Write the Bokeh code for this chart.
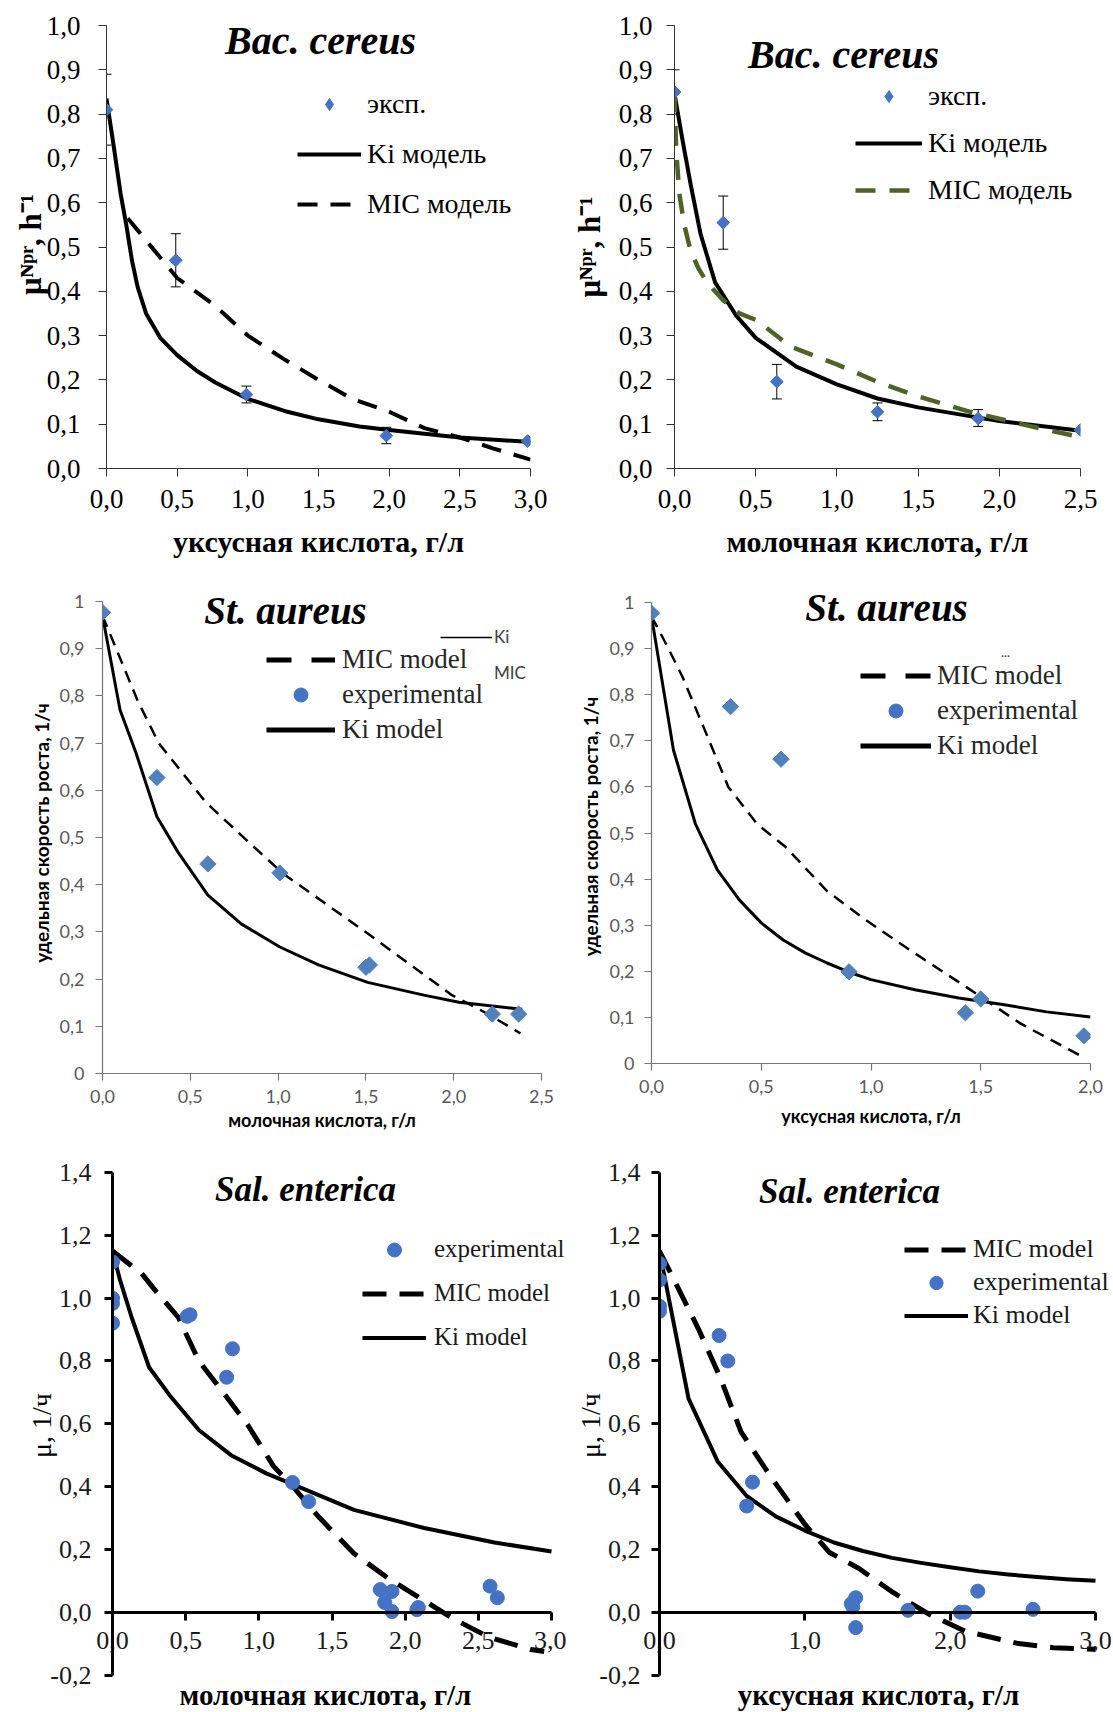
import numpy as np
from bokeh.plotting import figure
from bokeh.models import (Range1d, FixedTicker, CustomJSTickFormatter, Label, LinearAxis,
                          ColumnDataSource, Whisker, TeeHead, Legend, LegendItem)
from bokeh.layouts import column, row
from bokeh.embed import file_html
from bokeh.resources import INLINE

# ---------------- data ----------------
# Panel 1: Bac. cereus, acetic acid
exp_x1 = [0.0, 0.49, 0.99, 1.98, 2.98]
exp_y1 = [0.81, 0.47, 0.167, 0.074, 0.062]
err_x1 = [0.0, 0.49, 0.99, 1.98]
err_lo1 = [0.73, 0.41, 0.148, 0.056]
err_hi1 = [0.89, 0.53, 0.186, 0.093]
ki_x1 = [0, 0.05, 0.1, 0.14, 0.18, 0.22, 0.28, 0.38, 0.5, 0.64, 0.77, 1.0, 1.28, 1.5, 1.79, 2.0, 2.5, 3.0]
ki_y1 = [0.835, 0.73, 0.62, 0.55, 0.47, 0.41, 0.35, 0.295, 0.256, 0.22, 0.194, 0.157, 0.128, 0.111, 0.095, 0.087, 0.07, 0.06]
mic_x1 = [0.15, 0.5, 0.77, 1.0, 1.25, 1.5, 1.74, 2.0, 2.25, 2.5, 2.74, 3.0]
mic_y1 = [0.565, 0.43, 0.367, 0.3, 0.248, 0.2, 0.157, 0.128, 0.091, 0.07, 0.045, 0.02]

# Panel 2: Bac. cereus, lactic acid
exp_x2 = [0.0, 0.3, 0.63, 1.25, 1.87, 2.5]
exp_y2 = [0.85, 0.555, 0.196, 0.128, 0.113, 0.087]
err_x2 = [0.0, 0.3, 0.63, 1.25, 1.87]
err_lo2 = [0.80, 0.495, 0.157, 0.108, 0.095]
err_hi2 = [0.90, 0.615, 0.235, 0.148, 0.133]
ki_x2 = [0, 0.05, 0.1, 0.16, 0.25, 0.38, 0.5, 0.75, 1.0, 1.25, 1.5, 2.0, 2.5]
ki_y2 = [0.846, 0.74, 0.64, 0.53, 0.42, 0.345, 0.295, 0.23, 0.19, 0.158, 0.138, 0.107, 0.085]
mic_x2 = [0, 0.01, 0.03, 0.06, 0.1, 0.15, 0.2, 0.3, 0.4, 0.51, 0.71, 1.0, 1.26, 1.48, 1.82, 2.15, 2.46]
mic_y2 = [0.85, 0.72, 0.62, 0.55, 0.49, 0.45, 0.42, 0.38, 0.35, 0.334, 0.276, 0.235, 0.194, 0.165, 0.128, 0.099, 0.074]

# Panel 3: St. aureus, lactic acid
exp_x3 = [0.0, 0.31, 0.6, 1.01, 1.5, 1.52, 2.22, 2.37]
exp_y3 = [0.977, 0.627, 0.444, 0.425, 0.225, 0.23, 0.126, 0.126]
ki_x3 = [0, 0.1, 0.19, 0.31, 0.43, 0.6, 0.79, 1.01, 1.23, 1.51, 1.83, 2.03, 2.39]
ki_y3 = [0.97, 0.77, 0.68, 0.544, 0.469, 0.378, 0.317, 0.268, 0.23, 0.193, 0.166, 0.151, 0.136]
mic_x3 = [0, 0.1, 0.2, 0.32, 0.59, 0.83, 1.03, 1.49, 1.99, 2.2, 2.38]
mic_y3 = [0.97, 0.88, 0.79, 0.70, 0.574, 0.491, 0.423, 0.302, 0.166, 0.125, 0.085]

# Panel 4: St. aureus, acetic acid
exp_x4 = [0.0, 0.36, 0.59, 0.9, 1.43, 1.5, 1.97]
exp_y4 = [0.977, 0.774, 0.66, 0.199, 0.11, 0.14, 0.06]
ki_x4 = [0, 0.1, 0.2, 0.3, 0.4, 0.5, 0.6, 0.7, 0.8, 0.9, 1.0, 1.2, 1.4, 1.6, 1.8, 2.0]
ki_y4 = [0.97, 0.68, 0.52, 0.42, 0.355, 0.305, 0.268, 0.24, 0.218, 0.198, 0.182, 0.16, 0.142, 0.128, 0.112, 0.101]
mic_x4 = [0, 0.06, 0.14, 0.25, 0.35, 0.48, 0.61, 0.8, 0.98, 1.19, 1.44, 1.68, 1.97]
mic_y4 = [0.97, 0.916, 0.84, 0.715, 0.6, 0.52, 0.47, 0.374, 0.31, 0.242, 0.164, 0.087, 0.013]

# Panel 5: Sal. enterica, lactic acid
exp_x5 = [0, 0, 0, 0, 0.51, 0.53, 0.78, 0.82, 1.23, 1.34, 1.83, 1.86, 1.91, 1.91, 2.08, 2.09, 2.58, 2.63]
exp_y5 = [1.115, 1.0, 0.983, 0.92, 0.942, 0.947, 0.748, 0.839, 0.413, 0.352, 0.072, 0.031, 0.066, 0.002, 0.008, 0.015, 0.083, 0.046]
ki_x5 = [0, 0.05, 0.13, 0.25, 0.4, 0.59, 0.81, 1.05, 1.29, 1.65, 2.13, 2.61, 3.0]
ki_y5 = [1.15, 1.06, 0.94, 0.78, 0.685, 0.58, 0.5, 0.442, 0.396, 0.326, 0.268, 0.222, 0.193]
mic_x5 = [0, 0.2, 0.3, 0.45, 0.59, 0.78, 0.93, 1.1, 1.24, 1.41, 1.65, 1.89, 2.13, 2.33, 2.57, 2.86, 2.95]
mic_y5 = [1.15, 1.078, 1.02, 0.939, 0.8, 0.685, 0.592, 0.465, 0.396, 0.303, 0.187, 0.106, 0.037, -0.021, -0.079, -0.119, -0.125]

# Panel 6: Sal. enterica, acetic acid
exp_x6 = [0, 0, 0, 0, 0.41, 0.47, 0.6, 0.64, 1.32, 1.33, 1.35, 1.35, 1.71, 2.07, 2.1, 2.19, 2.57]
exp_y6 = [1.11, 1.058, 0.974, 0.958, 0.881, 0.8, 0.338, 0.414, 0.027, 0.017, 0.046, -0.049, 0.006, 0.0, 0.0, 0.067, 0.009]
ki_x6 = [0, 0.2, 0.4, 0.6, 0.8, 1.0, 1.2, 1.4, 1.6, 1.8, 2.0, 2.2, 2.4, 2.6, 2.8, 3.0]
ki_y6 = [1.15, 0.68, 0.48, 0.37, 0.305, 0.26, 0.222, 0.195, 0.173, 0.157, 0.143, 0.13, 0.12, 0.112, 0.105, 0.1]
mic_x6 = [0, 0.12, 0.27, 0.42, 0.56, 0.76, 1.0, 1.17, 1.37, 1.61, 1.86, 2.1, 2.47, 2.71, 3.0]
mic_y6 = [1.15, 1.04, 0.9, 0.745, 0.575, 0.435, 0.28, 0.19, 0.14, 0.062, -0.008, -0.06, -0.1, -0.113, -0.118]

# ticks
x_ticks_30 = [0.0, 0.5, 1.0, 1.5, 2.0, 2.5, 3.0]
x_labels_30 = ["0,0", "0,5", "1,0", "1,5", "2,0", "2,5", "3,0"]
x_ticks_25 = [0.0, 0.5, 1.0, 1.5, 2.0, 2.5]
x_labels_25 = ["0,0", "0,5", "1,0", "1,5", "2,0", "2,5"]
x_ticks_20 = [0.0, 0.5, 1.0, 1.5, 2.0]
x_labels_20 = ["0,0", "0,5", "1,0", "1,5", "2,0"]
x_ticks_6 = [0.0, 1.0, 2.0, 3.0]
x_labels_6 = ["0,0", "1,0", "2,0", "3,0"]
y_ticks_10 = [0.0, 0.1, 0.2, 0.3, 0.4, 0.5, 0.6, 0.7, 0.8, 0.9, 1.0]
y_labels_10a = ["0,0", "0,1", "0,2", "0,3", "0,4", "0,5", "0,6", "0,7", "0,8", "0,9", "1,0"]
y_labels_10b = ["0", "0,1", "0,2", "0,3", "0,4", "0,5", "0,6", "0,7", "0,8", "0,9", "1"]
y_ticks_14 = [-0.2, 0.0, 0.2, 0.4, 0.6, 0.8, 1.0, 1.2, 1.4]
y_labels_14 = ["-0,2", "0,0", "0,2", "0,4", "0,6", "0,8", "1,0", "1,2", "1,4"]

# ---------------- styles / layout ----------------
BLUE = "#4472C4"
BLUE2 = "#4F81BD"
GREEN = "#4F6228"
SERIF = "Liberation Serif"
SANS = "Lato"

COL_X = [0, 566]
COL_W = [566, 547]
ROW_Y = [0, 568, 1138]
ROW_H = [568, 570, 574]
OFF = [-100, -99]   # location of legend-only sample renderers (outside every range)


def make_fig(c, r, ml, mr, mt, mb, xr, yr, xloc="below"):
    w, h = COL_W[c], ROW_H[r]
    p = figure(width=w, height=h, x_range=Range1d(*xr), y_range=Range1d(*yr),
               min_border_left=ml, min_border_right=mr, min_border_top=mt, min_border_bottom=mb,
               output_backend="svg", toolbar_location=None, tools="", x_axis_location=xloc,
               frame_align=False)
    p.xgrid.visible = False
    p.ygrid.visible = False
    p.outline_line_color = None
    p.background_fill_color = "white"
    p.border_fill_color = "white"
    g = dict(L=COL_X[c] + ml, R=COL_X[c] + w - mr, T=ROW_Y[r] + mt, B=ROW_Y[r] + h - mb, xr=xr, yr=yr)
    return p, g


def yr_for(top_px, bottom_px, y0_px, y1_px, v0, v1):
    # range so that value v0 sits at page y0_px and v1 at y1_px, frame spanning top_px..bottom_px
    per = (y0_px - y1_px) / (v1 - v0)
    return (v0 - (bottom_px - y0_px) / per, v1 + (y1_px - top_px) / per)


def xr_for(left_px, right_px, x0_px, x1_px, v0, v1):
    per = (x1_px - x0_px) / (v1 - v0)
    return (v0 - (x0_px - left_px) / per, v1 + (right_px - x1_px) / per)


def dx(g, px):
    return g["xr"][0] + (px - g["L"]) / (g["R"] - g["L"]) * (g["xr"][1] - g["xr"][0])


def dy(g, py):
    return g["yr"][0] + (g["B"] - py) / (g["B"] - g["T"]) * (g["yr"][1] - g["yr"][0])


def fmt(ticks, labels):
    return CustomJSTickFormatter(args=dict(tv=ticks, tl=labels), code="""
        for (let i = 0; i < tv.length; i++) { if (Math.abs(tv[i] - tick) < 1e-9) return tl[i]; }
        return "";""")


def style_axis(ax, ticks, labels, font, size, color, lcolor, lw, tout, standoff,
               title=None, tfont=SERIF, tsize="30px", tstyle="bold", tstand=5, tcolor="black"):
    ax.ticker = FixedTicker(ticks=ticks)
    ax.formatter = fmt(ticks, labels)
    ax.axis_line_color = lcolor
    ax.axis_line_width = lw
    ax.major_tick_line_color = lcolor
    ax.major_tick_line_width = lw
    ax.major_tick_in = 0
    ax.major_tick_out = tout
    ax.minor_tick_line_color = None
    ax.major_label_standoff = standoff
    ax.major_label_text_font = font
    ax.major_label_text_font_size = size
    ax.major_label_text_color = color
    if title is not None:
        ax.axis_label = title
        ax.axis_label_text_font = tfont
        ax.axis_label_text_font_size = tsize
        ax.axis_label_text_font_style = tstyle
        ax.axis_label_text_color = tcolor
        ax.axis_label_standoff = tstand


def add_label(p, g, px, py, text, font=SERIF, size="26px", style="normal", color="black",
              angle=0.0, align="center", baseline="middle"):
    p.add_layout(Label(x=dx(g, px), y=dy(g, py), text=text, text_font=font, text_font_size=size,
                       text_font_style=style, text_color=color, angle=angle,
                       text_align=align, text_baseline=baseline))


def add_legend(p, g, items, glyph_left, first_center, pitch, glyph_w, glyph_h, standoff,
               font=SERIF, size="26px", color="black"):
    n = len(items)
    spacing = int(round(pitch - glyph_h))
    bottom = first_center + (n - 1) * (glyph_h + spacing) + glyph_h / 2
    leg = Legend(items=[LegendItem(label=lab, renderers=[rr]) for lab, rr in items],
                 location=(glyph_left - g["L"], g["B"] - bottom), orientation="vertical",
                 glyph_width=glyph_w, glyph_height=glyph_h, label_height=glyph_h,
                 label_standoff=standoff, spacing=spacing, padding=0, margin=0,
                 border_line_color=None, background_fill_alpha=0,
                 label_text_font=font, label_text_font_size=size, label_text_color=color)
    p.add_layout(leg)


def add_whiskers(p, xs, lo, hi):
    src = ColumnDataSource(dict(base=xs, lower=lo, upper=hi))
    p.add_layout(Whisker(source=src, base="base", lower="lower", upper="upper",
                         line_color="black", line_width=1,
                         upper_head=TeeHead(size=10, line_color="black", line_width=1),
                         lower_head=TeeHead(size=10, line_color="black", line_width=1)))


MU_TITLE = "μᴺᵖʳ, h⁻¹"

# ---------------- Panel 1 ----------------
p1, g1 = make_fig(0, 0, 106, 36, 20, 100, (0, 3), yr_for(20, 468, 468, 25, 0, 1))
style_axis(p1.xaxis[0], x_ticks_30, x_labels_30, SERIF, "27px", "black", "#333333", 1, 8, 13,
           title="уксусная кислота, г/л", tsize="30px", tstand=14)
style_axis(p1.yaxis[0], y_ticks_10, y_labels_10a, SERIF, "27px", "black", "#333333", 1, 8, 18,
           title=MU_TITLE, tsize="31px", tstand=-4)
p1.yaxis[0].bounds = (0, 1)
k1 = p1.line(ki_x1, ki_y1, line_color="black", line_width=4, line_join="round")
m1 = p1.line(mic_x1, mic_y1, line_color="black", line_width=4, line_dash="20 13")
add_whiskers(p1, err_x1, err_lo1, err_hi1)
p1.scatter(exp_x1, exp_y1, marker="square", angle=np.pi / 4, size=9, fill_color=BLUE, line_color=BLUE)
e1 = p1.scatter(OFF[:1], OFF[:1], marker="diamond", size=12, fill_color=BLUE, line_color=BLUE)
add_legend(p1, g1, [("эксп.", e1), ("Ki модель", k1), ("MIC модель", m1)],
           297, 109, 48, 64, 30, 6, size="28px")
add_label(p1, g1, 320, 40, "Bac. cereus", size="40px", style="bold italic")

# ---------------- Panel 2 ----------------
p2, g2 = make_fig(1, 0, 108, 33, 25, 100, (0, 2.5), (0, 1))
style_axis(p2.xaxis[0], x_ticks_25, x_labels_25, SERIF, "27px", "black", "#333333", 1, 8, 13,
           title="молочная кислота, г/л", tsize="30px", tstand=14)
style_axis(p2.yaxis[0], y_ticks_10, y_labels_10a, SERIF, "27px", "black", "#333333", 1, 8, 14,
           title=MU_TITLE, tsize="31px", tstand=9)
k2 = p2.line(ki_x2, ki_y2, line_color="black", line_width=4, line_join="round")
m2 = p2.line(mic_x2, mic_y2, line_color=GREEN, line_width=4.5, line_dash="20 14")
add_whiskers(p2, err_x2, err_lo2, err_hi2)
p2.scatter(exp_x2, exp_y2, marker="square", angle=np.pi / 4, size=9, fill_color=BLUE, line_color=BLUE)
e2 = p2.scatter(OFF[:1], OFF[:1], marker="diamond", size=12, fill_color=BLUE, line_color=BLUE)
add_legend(p2, g2, [("эксп.", e2), ("Ki модель", k2), ("MIC модель", m2)],
           855, 101, 45, 67, 30, 6, size="28px")
add_label(p2, g2, 843, 54, "Bac. cereus", size="40px", style="bold italic")

# ---------------- Panel 3 ----------------
p3, g3 = make_fig(0, 1, 102, 25, 24, 65, (0, 2.5), yr_for(592, 1073, 1073, 601, 0, 1))
style_axis(p3.xaxis[0], x_ticks_25, x_labels_25, SANS, "18px", "#595959", "#767676", 1.2, 7, 9,
           title="молочная кислота, г/л", tfont=SANS, tsize="18px", tstand=3)
style_axis(p3.yaxis[0], y_ticks_10, y_labels_10b, SANS, "18px", "#595959", "#767676", 1.2, 7, 11,
           title="удельная скорость роста, 1/ч", tfont=SANS, tsize="19px", tstand=4)
p3.yaxis[0].bounds = (0, 1)
p3.line(ki_x3, ki_y3, line_color="black", line_width=3, line_join="round")
p3.line(mic_x3, mic_y3, line_color="black", line_width=2.5, line_dash="12 8")
p3.scatter(exp_x3, exp_y3, marker="square", angle=np.pi / 4, size=11.5, fill_color=BLUE2, line_color=BLUE2)
lm3 = p3.line(OFF, OFF, line_color="black", line_width=5, line_dash="25 20")
le3 = p3.scatter(OFF[:1], OFF[:1], marker="circle", size=14, fill_color=BLUE, line_color=BLUE)
lk3 = p3.line(OFF, OFF, line_color="black", line_width=5)
add_legend(p3, g3, [("MIC model", lm3), ("experimental", le3), ("Ki model", lk3)],
           266, 659, 35, 69, 35, 7, size="27px", color="#262626")
sk3 = p3.line(OFF, OFF, line_color="black", line_width=1.5)
sm3 = p3.line(OFF, OFF, line_color="black", line_alpha=0)
add_legend(p3, g3, [("Ki", sk3), ("MIC", sm3)], 440, 638, 35, 52, 20, 2,
           font=SANS, size="17px", color="#404040")
add_label(p3, g3, 285, 610, "St. aureus", size="39px", style="bold italic")

# ---------------- Panel 4 ----------------
p4, g4 = make_fig(1, 1, 85, 23, 21, 75, (0, 2), yr_for(589, 1063, 1063, 602, 0, 1))
style_axis(p4.xaxis[0], x_ticks_20, x_labels_20, SANS, "18px", "#595959", "#767676", 1.2, 7, 9,
           title="уксусная кислота, г/л", tfont=SANS, tsize="18px", tstand=9)
style_axis(p4.yaxis[0], y_ticks_10, y_labels_10b, SANS, "18px", "#595959", "#767676", 1.2, 7, 10,
           title="удельная скорость роста, 1/ч", tfont=SANS, tsize="19px", tstand=5)
p4.yaxis[0].bounds = (0, 1)
p4.line(ki_x4, ki_y4, line_color="black", line_width=3, line_join="round")
p4.line(mic_x4, mic_y4, line_color="black", line_width=2.5, line_dash="12 8")
p4.scatter(exp_x4, exp_y4, marker="square", angle=np.pi / 4, size=11.5, fill_color=BLUE2, line_color=BLUE2)
lm4 = p4.line(OFF, OFF, line_color="black", line_width=5, line_dash="25 20")
le4 = p4.scatter(OFF[:1], OFF[:1], marker="circle", size=14, fill_color=BLUE, line_color=BLUE)
lk4 = p4.line(OFF, OFF, line_color="black", line_width=5)
add_legend(p4, g4, [("MIC model", lm4), ("experimental", le4), ("Ki model", lk4)],
           860, 675, 35, 71, 35, 6, size="27px", color="#262626")
add_label(p4, g4, 1005, 651, "...", font=SANS, size="13px", color="#404040")
add_label(p4, g4, 886, 607, "St. aureus", size="39px", style="bold italic")


# ---------------- Panels 5, 6 ----------------
def sal_axes(p, g, ticks, labels, ystand):
    # x axis drawn at y = 0 (ticks pointing down), its tick labels come from a second,
    # line-less axis whose labels are pushed down to sit just under the y = 0 line
    ax = p.xaxis[0]
    style_axis(ax, ticks, [""] * len(ticks), SERIF, "0px", "#1a1a1a", "black", 3, 0, 0)
    ax.major_tick_in = 8
    ax.fixed_location = 0
    ax.bounds = (0, 3)
    lab = LinearAxis()
    style_axis(lab, ticks, labels, SERIF, "26px", "#1a1a1a", "black", 1, 0,
               int(round(g["T"] - 1648.0)))
    lab.axis_line_color = None
    lab.major_tick_line_color = None
    p.add_layout(lab, "above")
    style_axis(p.yaxis[0], y_ticks_14, y_labels_14, SERIF, "26px", "#1a1a1a", "black", 3, 8, ystand,
               title="μ, 1/ч", tsize="28px", tstyle="normal", tstand=-10)
    p.yaxis[0].bounds = (-0.2, 1.4)


YR56 = yr_for(1138, 1712, 1611.7, 1172, 0, 1.4)

p5, g5 = make_fig(0, 2, 112, 0, 0, 0, xr_for(112, 566, 112, 551, 0, 3), YR56, xloc="above")
sal_axes(p5, g5, x_ticks_30, x_labels_30, 13)
k5 = p5.line(ki_x5, ki_y5, line_color="black", line_width=4, line_join="round")
m5 = p5.line(mic_x5, mic_y5, line_color="black", line_width=5, line_dash="24 13")
e5 = p5.scatter(exp_x5, exp_y5, marker="circle", size=14, fill_color=BLUE, line_color=BLUE)
add_legend(p5, g5, [("experimental", e5), ("MIC model", m5), ("Ki model", k5)],
           362, 1249, 44, 64, 35, 8, size="25px", color="#1a1a1a")
add_label(p5, g5, 305, 1189, "Sal. enterica", size="35px", style="bold italic")
add_label(p5, g5, 325, 1694, "молочная кислота, г/л", size="29px", style="bold")

p6, g6 = make_fig(1, 2, 93, 0, 0, 0, xr_for(659, 1113, 659, 1095, 0, 3), YR56, xloc="above")
sal_axes(p6, g6, x_ticks_6, x_labels_6, 11)
k6 = p6.line(ki_x6, ki_y6, line_color="black", line_width=4, line_join="round")
m6 = p6.line(mic_x6, mic_y6, line_color="black", line_width=5, line_dash="24 13")
e6 = p6.scatter(exp_x6, exp_y6, marker="circle", size=14, fill_color=BLUE, line_color=BLUE)
add_legend(p6, g6, [("MIC model", m6), ("experimental", e6), ("Ki model", k6)],
           904, 1249, 33, 64, 33, 5, size="26px", color="#1a1a1a")
add_label(p6, g6, 849, 1191, "Sal. enterica", size="35px", style="bold italic")
add_label(p6, g6, 878, 1694, "уксусная кислота, г/л", size="29px", style="bold")

layout = column(row(p1, p2), row(p3, p4), row(p5, p6))
open("out.html", "w").write(file_html(layout, INLINE))
